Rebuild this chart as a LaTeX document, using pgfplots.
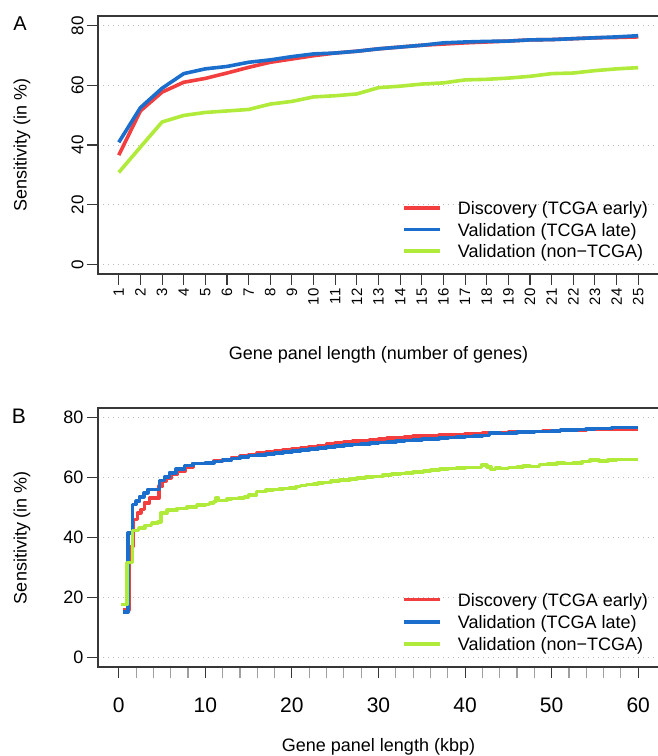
\documentclass[border=0pt]{standalone}
\usepackage{fontspec}
\setmainfont{Liberation Sans}
\usepackage{pgfplots}
\pgfplotsset{compat=1.18}

\definecolor{cred}{RGB}{242,62,62}
\definecolor{cblue}{RGB}{28,110,204}
\definecolor{cgreen}{RGB}{176,234,58}
\definecolor{axc}{RGB}{55,55,55}

\pgfplotsset{
  rstyle/.style={
    scale only axis, width=561pt, height=258pt,
    anchor=south west,
    axis line style={axc, line width=1.1pt},
    tick style={axc, line width=1.1pt},
    major tick length=11pt, minor tick length=11pt,
    tick align=outside,
    xtick pos=left, ytick pos=left,
    ymin=-3.2, ymax=83.2, ytick={0,20,...,80},
    ymajorgrids,
    grid style={gray!55, line width=0.9pt, dash pattern=on 1.2pt off 3.8pt},
    /pgf/number format/assume math mode=true,
    label style={font=\fontsize{18}{21}\selectfont},
    ylabel style={at={([xshift=-76pt]rel axis cs:0,0.5)}, anchor=center},
    legend cell align=left,
    legend image code/.code={\draw[##1] (0pt,0pt) -- (36pt,0pt); \path (52pt,0pt);},
    legend style={draw=none, fill=none, inner sep=0pt,
      font=\fontsize{18}{21}\selectfont,
      nodes={inner sep=0pt, text height=13pt, text depth=0pt}},
    every axis plot/.append style={line width=3.6pt, line join=round},
  }
}

\begin{document}
\begin{tikzpicture}
\useasboundingbox (0,0) rectangle (657pt,756pt);

\node[font=\fontsize{20}{24}\selectfont] at (20pt,732pt) {A};
\node[font=\fontsize{21}{24}\selectfont] at (19pt,340pt) {B};

% Panel A
\begin{axis}[rstyle,
    at={(98pt,482pt)},
    xmin=0.04, xmax=25.96,
    xtick={1,...,25},
    xticklabel style={rotate=90, anchor=east, font=\fontsize{15}{17}\selectfont},
    yticklabel style={rotate=90, anchor=south, font=\fontsize{17}{19}\selectfont},
    xlabel={Gene panel length (number of genes)},
    xlabel style={at={(rel axis cs:0.5,0)}, anchor=center, yshift=-81pt},
    ylabel={Sensitivity (in \%)},
    legend style={at={(rel axis cs:0.542,0.281)}, anchor=north west, row sep=8.5pt},
]
\addplot[cred] coordinates {
(1,36.6) (2,51.4) (3,57.7) (4,61.0) (5,62.3) (6,64.1) (7,66.0) (8,67.7) (9,68.8)
(10,69.9) (11,70.8) (12,71.4) (13,72.2) (14,72.8) (15,73.4) (16,73.8) (17,74.2)
(18,74.5) (19,74.8) (20,75.2) (21,75.3) (22,75.6) (23,75.9) (24,76.0) (25,76.2)
};
\addplot[cblue] coordinates {
(1,40.9) (2,52.5) (3,59.0) (4,63.9) (5,65.5) (6,66.3) (7,67.7) (8,68.5) (9,69.6)
(10,70.5) (11,70.8) (12,71.4) (13,72.2) (14,72.8) (15,73.4) (16,74.2) (17,74.5)
(18,74.7) (19,74.8) (20,75.2) (21,75.3) (22,75.6) (23,75.9) (24,76.2) (25,76.6)
};
\addplot[cgreen] coordinates {
(1,30.8) (2,39.3) (3,47.7) (4,49.9) (5,50.9) (6,51.4) (7,51.9) (8,53.7) (9,54.6)
(10,56.1) (11,56.5) (12,57.1) (13,59.2) (14,59.7) (15,60.4) (16,60.8) (17,61.8)
(18,62.0) (19,62.4) (20,63.0) (21,63.9) (22,64.1) (23,64.9) (24,65.5) (25,65.9)
};
\legend{Discovery (TCGA early), Validation (TCGA late), Validation (non−TCGA)}
\end{axis}

% Panel B
\begin{axis}[rstyle,
    at={(98pt,89pt)}, height=259pt,
    xmin=-2.4, xmax=62.4,
    xtick={0,10,...,60}, minor x tick num=4,
    minor tick style={gray!75},
    xticklabel style={font=\fontsize{21}{24}\selectfont, yshift=-16pt},
    yticklabel style={font=\fontsize{18}{20}\selectfont},
    xlabel={Gene panel length (kbp)},
    xlabel style={at={(rel axis cs:0.5,0)}, anchor=center, yshift=-80pt},
    ylabel={Sensitivity (in \%)},
    legend style={at={(rel axis cs:0.542,0.286)}, anchor=north west, row sep=9.3pt},
]
\addplot[cred, const plot] coordinates {
(0.45,15.8) (1.15,37.0) (1.65,46.0) (2.15,48.2) (2.55,49.3) (2.95,51.6) (3.55,53.2)
(4.65,57.1) (5.05,58.8) (5.45,59.9) (6.05,61.0) (6.75,62.1) (7.65,63.6) (8.6,64.7)
(10,65.0) (11,65.6) (12,66.0) (13,66.6) (14,67.2) (15,67.6) (16,68.2) (17,68.5)
(18,68.9) (19,69.3) (20,69.6) (21,70.0) (22,70.4) (23,70.7) (24,71.1) (25,71.5)
(26,71.8) (27,72.1) (28,72.4) (29,72.7) (30,72.9) (31,73.1) (32,73.4) (33,73.6)
(34,73.8) (35,73.9) (36,74.0) (37,74.1) (38,74.3) (39,74.4) (40,74.6) (41,74.7)
(42,74.8) (43,74.9) (44,75.0) (45,75.1) (46,75.2) (47,75.3) (48,75.4) (49,75.5)
(50,75.6) (51,75.7) (52,75.8) (53,75.9) (54,76.0) (55,76.1) (56,76.1) (57,76.2)
(58,76.2) (59,76.2) (60,76.2)
};
\addplot[cblue, const plot] coordinates {
(0.45,15.1) (1.05,41.5) (1.6,51.0) (2.0,52.1) (2.4,53.6) (2.9,54.9) (3.35,56.0)
(4.7,59.0) (5.3,60.2) (5.85,61.6) (6.6,62.9) (7.6,64.0) (8.55,64.7)
(10,64.9) (11,65.4) (12,65.8) (13,66.4) (14,66.8) (15,67.3) (16,67.6) (17,67.9)
(18,68.2) (19,68.5) (20,68.8) (21,69.1) (22,69.5) (23,69.9) (24,70.2) (25,70.5)
(26,70.8) (27,71.0) (28,71.2) (29,71.5) (30,71.7) (31,71.8) (32,72.1) (33,72.3)
(34,72.6) (35,72.8) (36,72.9) (37,73.1) (38,73.4) (39,73.6) (40,73.7) (41,73.8)
(42,74.0) (42.8,74.8) (44,74.7) (45,74.9) (46,75.1) (47,75.2) (48,75.3) (49,75.4)
(50,75.6) (51,75.8) (52,75.9) (53,76.0) (54,76.2) (55,76.3) (56,76.4) (57,76.7)
(58,76.7) (59,76.7) (60,76.7)
};
\addplot[cgreen, const plot] coordinates {
(0.3,17.7) (0.95,31.6) (1.6,42.4) (2.3,43.1) (3.0,44.0) (3.8,44.9) (4.5,45.2)
(4.85,48.2) (5.6,49.1) (6.7,49.7) (7.9,50.2) (9.0,50.8) (10.0,51.0) (10.5,51.5)
(11.0,52.0) (11.2,53.2) (11.5,52.3) (12.0,52.4) (12.5,52.8) (13.0,53.0) (13.9,53.2)
(14.5,53.6) (15.0,54.2) (15.9,55.4) (16.5,55.4) (17.0,55.8) (17.8,56.0) (18.5,56.2)
(19.0,56.4) (19.7,56.6) (20.5,57.0) (21.0,57.3) (21.7,57.7) (22.5,57.9) (23.0,58.1)
(23.6,58.4) (24.5,58.8) (25.5,59.1) (26.7,59.6) (27.5,59.9) (28.5,60.1) (29.4,60.4)
(30.5,60.8) (31.5,61.1) (32.5,61.4) (33.2,61.6) (34.0,61.8) (35.2,62.2) (36.0,62.5)
(37.1,62.9) (38.0,63.0) (39.0,63.1) (40.0,63.3) (40.9,63.4) (41.9,64.1) (42.5,63.6)
(43.0,62.7) (43.5,63.2) (44.1,63.0) (45.0,63.3) (46.0,63.5) (46.7,63.8) (47.5,63.7)
(48.6,64.3) (49.5,64.5) (50.6,64.9) (51.5,64.7) (52.5,64.8) (53.5,65.3) (54.4,65.8)
(55.5,65.6) (56.5,65.8) (57.5,66.0) (60.0,66.0)
};
\legend{Discovery (TCGA early), Validation (TCGA late), Validation (non−TCGA)}
\end{axis}
\end{tikzpicture}
\end{document}
